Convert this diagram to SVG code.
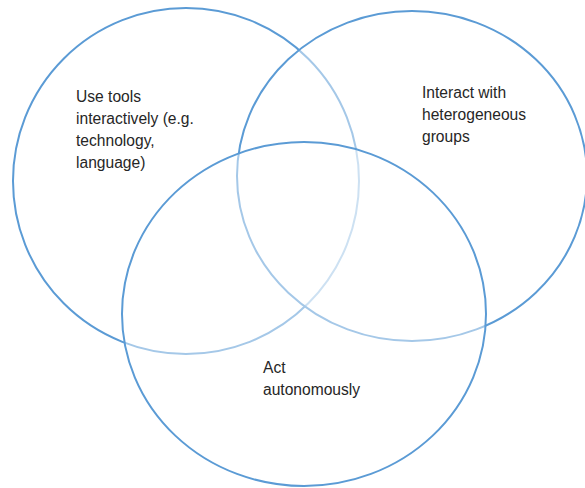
<svg xmlns="http://www.w3.org/2000/svg" width="585" height="488" viewBox="0 0 585 488">
<style>
.c{fill:#ffffff;fill-opacity:0.45;stroke:#5B9BD5;stroke-width:2}
.t{font-family:"Liberation Sans",Arial,sans-serif;font-size:15.6px;fill:#262626}
</style>
<rect width="585" height="488" fill="#ffffff"/>
<g id="tools">
<ellipse class="c" cx="186" cy="181" rx="173" ry="173"/>
</g>
<g id="interact">
<ellipse class="c" cx="412" cy="176" rx="175" ry="165"/>
</g>
<g id="act">
<ellipse class="c" cx="304" cy="314" rx="182" ry="172"/>
</g>
<g id="labels">
<text class="t" x="76" y="102">Use tools</text>
<text class="t" x="76" y="124">interactively (e.g.</text>
<text class="t" x="76" y="146">technology,</text>
<text class="t" x="76" y="168">language)</text>
<text class="t" x="422" y="98">Interact with</text>
<text class="t" x="422" y="120">heterogeneous</text>
<text class="t" x="422" y="142">groups</text>
<text class="t" x="263" y="373">Act</text>
<text class="t" x="263" y="395">autonomously</text>
</g>
</svg>
